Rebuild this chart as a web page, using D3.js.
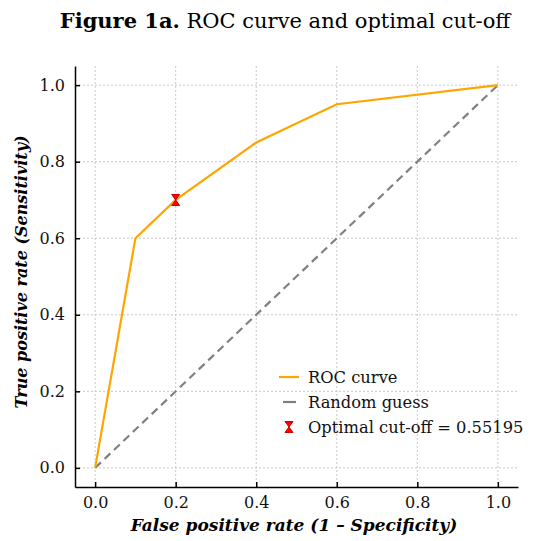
<!DOCTYPE html>
<html><head><meta charset="utf-8">
<script src="https://cdn.jsdelivr.net/npm/d3@7"></script>
<style>body{margin:0;background:#fff}svg{display:block}text{font-family:"DejaVu Serif",serif}</style>
</head><body><svg id="c" width="550" height="541"></svg>
<script>
const rocFpr = [0, 0.1, 0.2, 0.4, 0.6, 1.0];
const rocTpr = [0, 0.6, 0.7, 0.85, 0.95, 1.0];
const guessX = [0, 1];
const guessY = [0, 1];
const optimal = {fpr: 0.2, tpr: 0.7, threshold: 0.55195};
const ticks = [0, 0.2, 0.4, 0.6, 0.8, 1.0];
const legendLabels = ["ROC curve", "Random guess", "Optimal cut-off = 0.55195"];

const svg = d3.select("#c");
const L = 75, R = 518, T = 66, B = 487;
const x = d3.scaleLinear().domain([-0.05, 1.05]).range([L, R]);
const y = d3.scaleLinear().domain([-0.05, 1.05]).range([B, T]);

// grid
const g = svg.append("g");
g.selectAll(".gx").data(ticks).join("line")
  .attr("x1", d => x(d)).attr("x2", d => x(d)).attr("y1", T).attr("y2", B)
  .attr("stroke", "#c8c8c8").attr("stroke-width", 1).attr("stroke-dasharray", "2,2");
g.selectAll(".gy").data(ticks).join("line")
  .attr("y1", d => y(d)).attr("y2", d => y(d)).attr("x1", L).attr("x2", R)
  .attr("stroke", "#c8c8c8").attr("stroke-width", 1).attr("stroke-dasharray", "2,2");

// random guess
const line = d3.line().x(d => x(d[0])).y(d => y(d[1]));
svg.append("path").attr("d", line(d3.zip(guessX, guessY)))
  .attr("fill", "none").attr("stroke", "#808080").attr("stroke-width", 2.2).attr("stroke-dasharray", "8,5");
// ROC
svg.append("path").attr("d", line(d3.zip(rocFpr, rocTpr)))
  .attr("fill", "none").attr("stroke", "#FFA500").attr("stroke-width", 2.2);

function hourglass(cx, cy, w, h) {
  return `M${cx-w/2},${cy-h/2}L${cx+w/2},${cy-h/2}L${cx},${cy}L${cx+w/2},${cy+h/2}L${cx-w/2},${cy+h/2}L${cx},${cy}Z`;
}
svg.append("path").attr("d", hourglass(x(optimal.fpr), y(optimal.tpr), 8, 11))
  .attr("fill", "#ff0000").attr("stroke", "#cc0000").attr("stroke-width", 1);

// axes
const xa = svg.append("g").attr("transform", `translate(0,${B})`)
  .call(d3.axisBottom(x).tickValues(ticks).tickFormat(d3.format(".1f")).tickSizeInner(-5).tickSizeOuter(0).tickPadding(10));
const ya = svg.append("g").attr("transform", `translate(${L},0)`)
  .call(d3.axisLeft(y).tickValues(ticks).tickFormat(d3.format(".1f")).tickSizeInner(-5).tickSizeOuter(0).tickPadding(10));
[xa, ya].forEach(a => {
  a.select(".domain").attr("stroke", "#000").attr("stroke-width", 1.5);
  a.selectAll(".tick line").attr("stroke", "#000").attr("stroke-width", 1.5);
  a.selectAll("text").attr("font-size", 16).attr("font-family", "DejaVu Serif").attr("fill", "#111");
});

// labels
svg.append("text").attr("x", 294).attr("y", 531).attr("text-anchor", "middle")
  .attr("font-size", 17).attr("font-weight", "bold").attr("font-style", "italic").text("False positive rate (1 – Specificity)");
svg.append("text").attr("transform", `translate(27,272) rotate(-90)`).attr("text-anchor", "middle")
  .attr("font-size", 16).attr("font-weight", "bold").attr("font-style", "italic").text("True positive rate (Sensitivity)");

// title
const t = svg.append("text").attr("x", 285).attr("y", 28).attr("text-anchor", "middle").attr("font-size", 21);
t.append("tspan").attr("font-weight", "bold").text("Figure 1a.");
t.append("tspan").text(" ROC curve and optimal cut-off");

// legend
const lg = svg.append("g");
const ly = [377, 402, 427];
lg.append("line").attr("x1", 279).attr("x2", 299).attr("y1", ly[0]).attr("y2", ly[0]).attr("stroke", "#FFA500").attr("stroke-width", 2.2);
lg.append("line").attr("x1", 283).attr("x2", 296).attr("y1", ly[1]).attr("y2", ly[1]).attr("stroke", "#808080").attr("stroke-width", 2.2);
lg.append("path").attr("d", hourglass(289, ly[2], 8, 11)).attr("fill", "#ff0000").attr("stroke", "#cc0000").attr("stroke-width", 1);
lg.selectAll("text").data(legendLabels).join("text")
  .attr("x", 308).attr("y", (d, i) => ly[i] + 6).attr("font-size", 16.3).attr("fill", "#111").text(d => d);
</script></body></html>
